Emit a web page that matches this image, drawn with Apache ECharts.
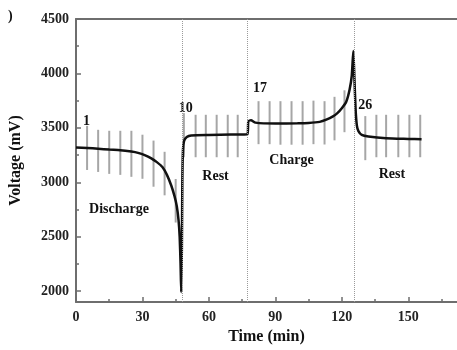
<!DOCTYPE html>
<html>
<head>
<meta charset="utf-8">
<script src="https://cdn.jsdelivr.net/npm/echarts@6/dist/echarts.min.js"></script>
<style>
  html, body { margin: 0; padding: 0; background: #fff; }
  #chart { width: 457px; height: 350px; }
</style>
</head>
<body>
<div id="chart"></div>
<script>
// voltage trace (time in min, voltage in mV)
const traceTime = [0, 5, 10, 15, 20, 25, 28, 31, 34, 36.5, 39, 41, 43, 44.5, 45.5, 46.3, 46.8, 47.2, 47.5,
  47.8, 48.0, 48.3, 48.8, 50, 52, 60, 70, 77.4, 77.8, 79, 81, 90, 100, 105, 110, 113, 116, 118, 120, 122,
  123.5, 124.5, 125.2, 125.7, 126.2, 126.8, 127.5, 129, 132, 140, 150, 156]
const traceVolt = [3320, 3315, 3308, 3300, 3295, 3282, 3270, 3250, 3220, 3185, 3140, 3070, 2970, 2870, 2780, 2650, 2500, 2250, 1990,
  2400, 3000, 3300, 3380, 3415, 3430, 3435, 3438, 3440, 3560, 3570, 3548, 3540, 3542, 3545, 3555, 3575, 3605, 3635, 3680, 3740,
  3850, 3980, 4205, 3950, 3680, 3520, 3470, 3435, 3420, 3404, 3398, 3395]

// spread bars per cycle
const barTime = [5, 10, 15, 20, 25, 30, 35, 40, 45,
  48.7, 54, 58.6, 63.5, 68.5, 73,
  82.4, 87.4, 92.3, 97.3, 102.3, 107.2, 112.2, 116.7, 121.2,
  130.6, 135.6, 140, 145.5, 150.5, 155.4]
const barLow = [3113, 3095, 3077, 3068, 3050, 3032, 2959, 2880, 2630,
  3230, 3230, 3230, 3230, 3230, 3230,
  3350, 3350, 3345, 3345, 3345, 3350, 3347, 3385, 3460,
  3203, 3230, 3230, 3230, 3230, 3230]
const barHigh = [3518, 3482, 3473, 3473, 3473, 3437, 3383, 3280, 3030,
  3635, 3620, 3620, 3620, 3620, 3620,
  3745, 3745, 3745, 3745, 3745, 3750, 3745, 3785, 3845,
  3608, 3620, 3620, 3620, 3620, 3620]

// phase boundaries (dotted lines)
const phaseBounds = [47.9, 77.3, 125.7]

// annotations: text, time, voltage
const noteText = ['1', '10', '17', '26', 'Discharge', 'Rest', 'Charge', 'Rest']
const noteTime = [4.7, 49.5, 83.1, 130.6, 19.4, 63, 97.3, 142.6]
const noteVolt = [3563, 3680, 3860, 3703, 2752, 3050, 3203, 3068]

const xMajor = [0, 30, 60, 90, 120, 150]
const xMinor = [15, 45, 75, 105, 135, 165]
const yMajor = [2000, 2500, 3000, 3500, 4000, 4500]
const yMinor = [2250, 2750, 3250, 3750, 4250]

const font = "'Liberation Serif', 'DejaVu Serif', serif"
const axisColor = '#6e6e6e'

const chart = echarts.init(document.getElementById('chart'))

chart.setOption({
  animation: false,
  backgroundColor: '#fff',
  graphic: [{
    type: 'text', left: 8, top: 9,
    style: { text: ')', font: `bold 14px ${font}`, fill: '#111' }
  }],
  grid: { left: 76, right: 0, top: 19, bottom: 42 },
  xAxis: [
    {
      type: 'value', position: 'bottom', min: 0, max: 172, interval: 30,
      name: 'Time (min)', nameLocation: 'middle', nameGap: 27,
      nameTextStyle: { fontFamily: font, fontWeight: 'bold', fontSize: 16, color: '#111' },
      axisLine: { show: true, lineStyle: { color: axisColor, width: 2 } },
      axisTick: { show: true, inside: true, length: 5, customValues: xMajor, lineStyle: { color: axisColor, width: 1.5 } },
      axisLabel: {
        customValues: xMajor, margin: 8, formatter: (v) => String(v),
        fontFamily: font, fontWeight: 'bold', fontSize: 14, color: '#222'
      },
      splitLine: { show: false }
    },
    {
      type: 'value', position: 'bottom', min: 0, max: 172,
      axisLine: { show: false },
      axisTick: { show: true, inside: true, length: 3, customValues: xMinor, lineStyle: { color: axisColor, width: 1.5 } },
      axisLabel: { show: false },
      splitLine: { show: false }
    },
    {
      type: 'value', position: 'top', min: 0, max: 172,
      axisLine: { show: true, lineStyle: { color: axisColor, width: 2 } },
      axisTick: { show: false },
      axisLabel: { show: false },
      splitLine: { show: false }
    }
  ],
  yAxis: [
    {
      type: 'value', position: 'left', min: 1900, max: 4500,
      name: 'Voltage (mV)', nameLocation: 'middle', nameGap: 52,
      nameTextStyle: { fontFamily: font, fontWeight: 'bold', fontSize: 16, color: '#111' },
      axisLine: { show: true, lineStyle: { color: axisColor, width: 2 } },
      axisTick: { show: true, inside: true, length: 5, customValues: yMajor, lineStyle: { color: axisColor, width: 1.5 } },
      axisLabel: {
        customValues: yMajor, margin: 7, formatter: (v) => String(v),
        fontFamily: font, fontWeight: 'bold', fontSize: 14, color: '#222'
      },
      splitLine: { show: false }
    },
    {
      type: 'value', position: 'left', min: 1900, max: 4500,
      axisLine: { show: false },
      axisTick: { show: true, inside: true, length: 3, customValues: yMinor, lineStyle: { color: axisColor, width: 1.5 } },
      axisLabel: { show: false },
      splitLine: { show: false }
    }
  ],
  series: [
    {
      type: 'custom',
      name: 'spread',
      xAxisIndex: 0, yAxisIndex: 0,
      encode: { x: 0, y: [1, 2] },
      data: barTime.map((t, i) => [t, barLow[i], barHigh[i]]),
      renderItem: (params, api) => {
        const lo = api.coord([api.value(0), api.value(1)])
        const hi = api.coord([api.value(0), api.value(2)])
        return {
          type: 'line',
          shape: { x1: lo[0], y1: lo[1], x2: hi[0], y2: hi[1] },
          style: { stroke: '#a6a6a6', lineWidth: 2 }
        }
      },
      z: 1
    },
    {
      type: 'line',
      name: 'voltage',
      xAxisIndex: 0, yAxisIndex: 0,
      data: traceTime.map((t, i) => [t, traceVolt[i]]),
      showSymbol: false,
      smooth: 0.2,
      lineStyle: { color: '#111', width: 2.5 },
      markLine: {
        silent: true,
        symbol: 'none',
        label: { show: false },
        lineStyle: { type: 'dotted', color: '#9a9a9a', width: 1 },
        data: phaseBounds.map((x) => ({ xAxis: x }))
      },
      z: 3
    },
    {
      type: 'custom',
      name: 'notes',
      xAxisIndex: 0, yAxisIndex: 0,
      encode: { x: 0, y: 1 },
      data: noteText.map((s, i) => [noteTime[i], noteVolt[i], i]),
      renderItem: (params, api) => {
        const p = api.coord([api.value(0), api.value(1)])
        return {
          type: 'text',
          x: p[0], y: p[1],
          style: {
            text: noteText[api.value(2)],
            align: 'center', verticalAlign: 'middle',
            font: `bold 14px ${font}`, fill: '#111'
          }
        }
      },
      z: 4
    }
  ]
})
</script>
</body>
</html>
